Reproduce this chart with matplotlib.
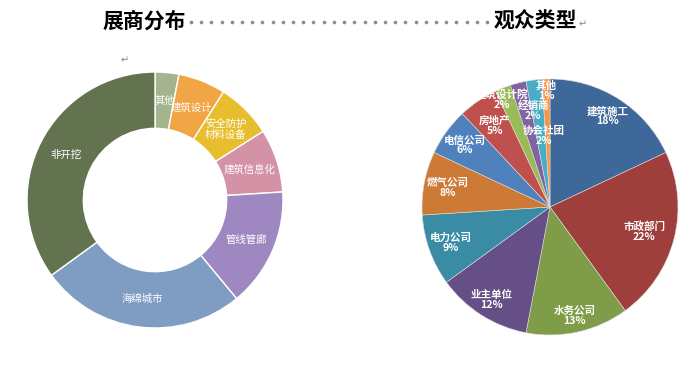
import numpy as np
import matplotlib
matplotlib.use('Agg')
import matplotlib.pyplot as plt

plt.rcParams['font.family'] = ['Noto Sans CJK SC', 'DejaVu Sans']

# left donut: exhibitors
exh_labels = ['其他', '建筑设计', '安全防护\n材料设备', '建筑信息化', '管线管廊', '海绵城市', '非开挖']
exh_values = [3, 6, 7, 8, 15, 26, 35]
exh_colors = ['#A4B58E', '#F2A545', '#E8BE2F', '#D392A6', '#9F87C2', '#7F9DC3', '#637350']

# right pie: visitors
vis_labels = ['建筑施工', '市政部门', '水务公司', '业主单位', '电力公司', '燃气公司',
              '电信公司', '房地产', '建筑设计院', '经销商', '协会社团', '其他']
vis_values = [18, 22, 13, 12, 9, 8, 6, 5, 2, 2, 2, 1]
vis_colors = ['#3E6899', '#9E3F3C', '#7F9C48', '#664F87', '#3A8CA5', '#CE7A37',
              '#4F81BD', '#C0504D', '#9BBB59', '#8064A2', '#4BACC6', '#F79646']
# label placement (fraction of radius, angle nudge in degrees), like excel's best fit
vis_labeldist = [0.84, 0.76, 0.87, 0.86, 0.82, 0.81, 0.82, 0.77, 0.92, 0.76, 0.56, 0.91]
vis_labelnudge = [0, 0, 0, 0, 0, 0, 0, 0, 2.5, -4.5, -2, 0]

W, H = 691, 365
fig = plt.figure(figsize=(W / 100, H / 100), dpi=100)
ax = fig.add_axes([0, 0, 1, 1])

# donut
c1 = (155, H - 200)
r1 = 128
wedges, texts = ax.pie(exh_values, labels=exh_labels, colors=exh_colors, startangle=90,
                       counterclock=False, center=c1, radius=r1, labeldistance=0.78,
                       wedgeprops=dict(width=r1 * 0.44, edgecolor='white', linewidth=1),
                       textprops=dict(color='white', fontsize=7.5, ha='center', va='center'))
for t in texts:
    t.set_horizontalalignment('center')
    t.set_multialignment('center')

# pie
c2 = (550, H - 207)
r2 = 128
wedges2, _ = ax.pie(vis_values, colors=vis_colors, startangle=90, counterclock=False,
                    center=c2, radius=r2, wedgeprops=dict(linewidth=0.4, edgecolor='#dddddd'))
total = sum(vis_values)
cum = 0
for lab, v, d, nd in zip(vis_labels, vis_values, vis_labeldist, vis_labelnudge):
    mid = 90 - 360 * (cum + v / 2) / total + nd
    cum += v
    x = c2[0] + d * r2 * np.cos(np.radians(mid))
    y = c2[1] + d * r2 * np.sin(np.radians(mid))
    ax.text(x, y, f'{lab}\n{v}%', color='white', fontsize=7.6, fontweight='bold',
            ha='center', va='center', linespacing=1.0)

# titles
ax.text(144, H - 21, '展商分布', fontsize=15, fontweight='bold', ha='center', va='center')
ax.text(535, H - 21, '观众类型', fontsize=15, fontweight='bold', ha='center', va='center')
ax.text(583, H - 24, '↵', fontsize=7, color='#888888', ha='center', va='center')
ax.text(125, H - 60, '↵', fontsize=7, color='#888888', ha='center', va='center')
dots_x = np.linspace(191, 487, 30)
ax.plot(dots_x, np.full(len(dots_x), H - 22), 'o', color='#8c8c8c', markersize=2.6,
        markeredgewidth=0)

ax.set_xlim(0, W)
ax.set_ylim(0, H)
ax.set_aspect('equal')
ax.axis('off')

fig.savefig('out.png', dpi=100)
